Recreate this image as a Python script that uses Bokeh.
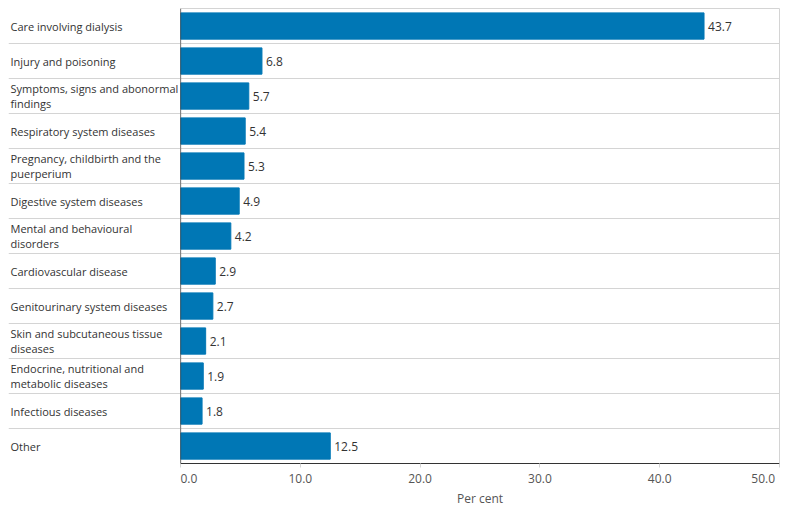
from bokeh.plotting import figure
from bokeh.layouts import row
from bokeh.models import Range1d, FixedTicker, ColumnDataSource, Span
from bokeh.core.properties import value
from bokeh.embed import file_html
from bokeh.resources import INLINE

categories = [
    "Care involving dialysis",
    "Injury and poisoning",
    "Symptoms, signs and abonormal\nfindings",
    "Respiratory system diseases",
    "Pregnancy, childbirth and the\npuerperium",
    "Digestive system diseases",
    "Mental and behavioural\ndisorders",
    "Cardiovascular disease",
    "Genitourinary system diseases",
    "Skin and subcutaneous tissue\ndiseases",
    "Endocrine, nutritional and\nmetabolic diseases",
    "Infectious diseases",
    "Other",
]
values = [43.7, 6.8, 5.7, 5.4, 5.3, 4.9, 4.2, 2.9, 2.7, 2.1, 1.9, 1.8, 12.5]
x_ticks = [0, 10, 20, 30, 40, 50]
x_tick_labels = ["0.0", "10.0", "20.0", "30.0", "40.0", "50.0"]

FONT = "Open Sans"
BAR = "#0077B5"
TXT = "#333333"
GRID = "#d4d4d4"

n = len(categories)
ypos = [n - i - 0.5 for i in range(n)]
src = ColumnDataSource(dict(
    cat=categories, val=values, y=ypos,
    lab=[f"{v:.1f}" for v in values],
    x0=[0] * n,
))

H = 509
TOP = 8
BOT = 46
yr = Range1d(0, n)

# left panel with category labels
left = figure(width=180, height=H, x_range=Range1d(0, 172), y_range=yr,
              toolbar_location=None, output_backend="svg",
              x_axis_location=None, y_axis_location=None,
              min_border_left=8, min_border_right=0, min_border_top=TOP, min_border_bottom=BOT)
left.outline_line_color = None
left.xgrid.visible = False
left.ygrid.ticker = FixedTicker(ticks=list(range(n + 1)))
left.ygrid.grid_line_color = GRID
left.text(x="x0", y="y", text="cat", source=src, x_offset=2,
          text_align="left", text_baseline="middle",
          text_font=value(FONT), text_font_size="11px", text_color=TXT,
          text_line_height=0.95)

# right panel with bars
p = figure(width=607, height=H, x_range=Range1d(0, 50), y_range=yr,
           toolbar_location=None, output_backend="svg",
           y_axis_location=None,
           min_border_left=0, min_border_right=8, min_border_top=TOP, min_border_bottom=BOT)
p.outline_line_color = GRID
p.xgrid.visible = False
p.ygrid.ticker = FixedTicker(ticks=list(range(n + 1)))
p.ygrid.grid_line_color = GRID

p.hbar(y="y", left=0, right="val", height=0.75, source=src, color=BAR)
p.text(x="val", y="y", text="lab", source=src, x_offset=4,
       text_align="left", text_baseline="middle",
       text_font=value(FONT), text_font_size="12px", text_color=TXT)

p.add_layout(Span(location=0, dimension="height", line_color=TXT, line_width=1.2))

ax = p.xaxis[0]
ax.ticker = FixedTicker(ticks=x_ticks)
overrides = {t: l for t, l in zip(x_ticks, x_tick_labels)}
overrides[x_ticks[-1]] = x_tick_labels[-1] + "\u00a0" * 4
ax.major_label_overrides = overrides
ax.axis_line_color = TXT
ax.axis_line_width = 1.2
ax.major_tick_in = 0
ax.major_tick_out = 4
ax.major_tick_line_color = GRID
ax.minor_tick_line_color = None
ax.major_label_standoff = 2
ax.major_label_text_font = FONT
ax.major_label_text_font_size = "12px"
ax.major_label_text_color = "#555555"
ax.axis_label = "Per cent"
ax.axis_label_text_font = FONT
ax.axis_label_text_font_size = "12px"
ax.axis_label_text_font_style = "normal"
ax.axis_label_text_color = "#555555"
ax.axis_label_standoff = 0

layout = row(left, p, spacing=0)
open("out.html", "w").write(file_html(layout, INLINE))
